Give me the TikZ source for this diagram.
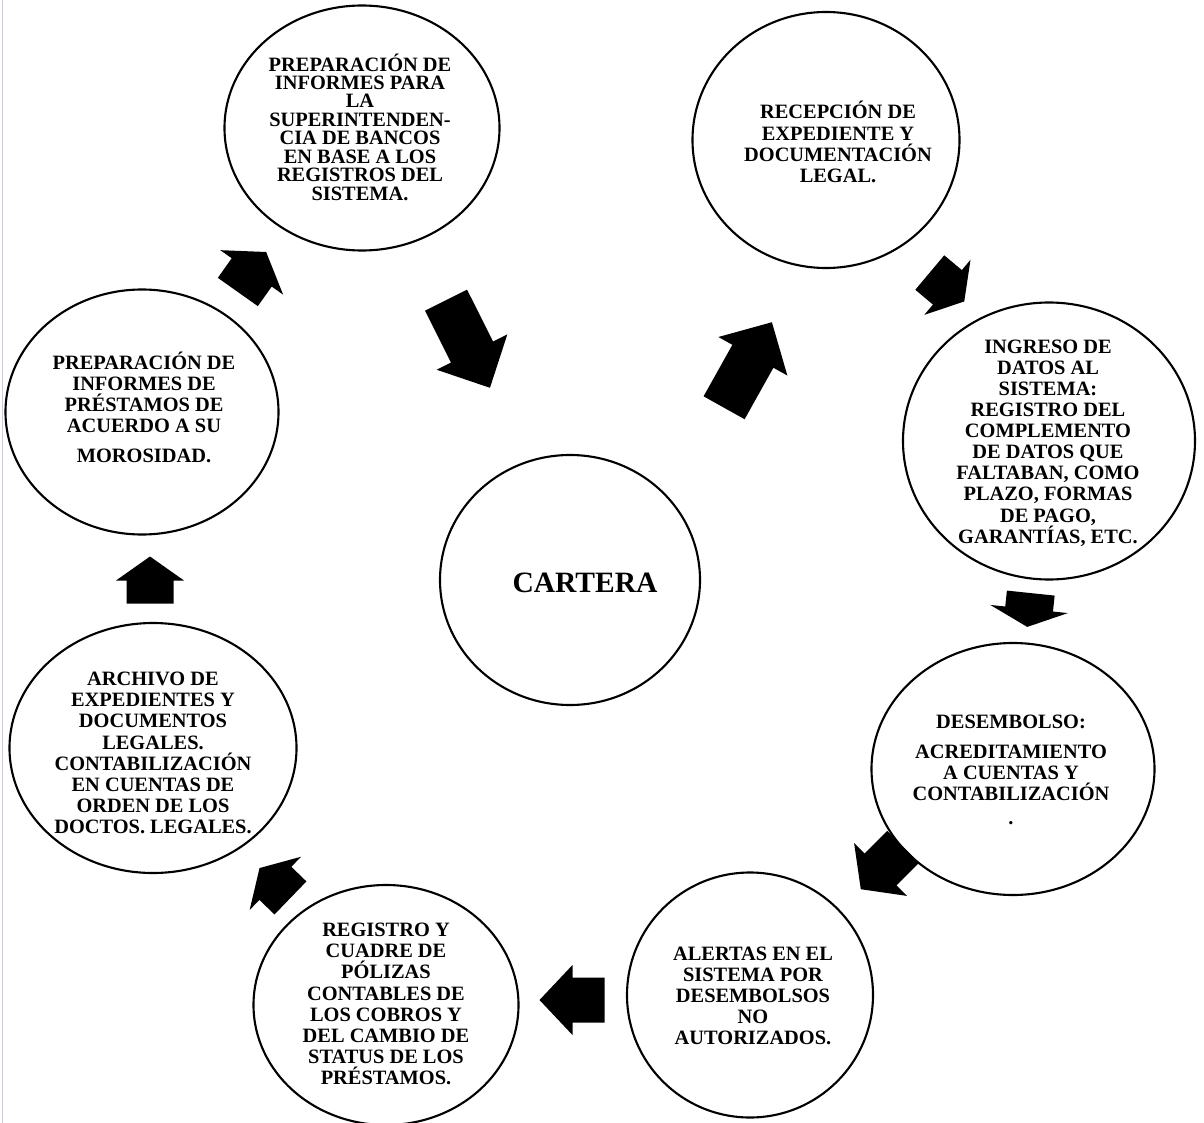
\documentclass[tikz,border=0pt]{standalone}
\usepackage{fontspec}
\setmainfont{Liberation Serif}
\usetikzlibrary{shapes.geometric}

\begin{document}
\begin{tikzpicture}[x=0.025cm, y=-0.025cm]
\tikzset{circ/.style 2 args={draw, line width=1.5pt, ellipse, inner sep=0, minimum width=#1*0.025cm, minimum height=#2*0.025cm}}
\tikzset{ctext/.style={align=center, inner sep=0, font=\bfseries\fontsize{14.5}{15}\selectfont}}
\def\blockarrow#1#2#3#4#5#6{ % #1 centre, #2 angle, #3 length, #4 head length, #5 shaft width, #6 head width
\begin{scope}[shift={(#1)}, rotate=#2, x=0.025cm, y=0.025cm]
\fill (-#3/2,-#5/2) -- (#3/2-#4,-#5/2) -- (#3/2-#4,-#6/2) -- (#3/2,0) -- (#3/2-#4,#6/2) -- (#3/2-#4,#5/2) -- (-#3/2,#5/2) -- cycle;
\end{scope}}
\useasboundingbox (0,0) rectangle (1204,1123);
\draw[blue!15!gray!35] (2,0) -- (2,1123);

%% circles
\node[circ={275}{245}] (superint) at (362,128) {};
\node[circ={267}{256}] (recepcion) at (826,140) {};
\node[circ={292}{277}] (ingreso) at (1049,441) {};
\node[circ={283}{252}] (desembolso) at (1013,769) {};
\node[circ={246}{245}] (alertas) at (750,995) {};
\node[circ={265}{240}] (registro) at (386,1005) {};
\node[circ={287}{250}] (archivo) at (153,748) {};
\node[circ={273}{245}] (morosidad) at (142,412) {};
\node[circ={260}{250}] (cartera) at (570,580) {};

%% texts
\node[ctext, font=\bfseries\fontsize{14.5}{13.1}\selectfont] (superint-t) at (360,127) {PREPARACIÓN DE\\INFORMES PARA\\LA\\SUPERINTENDEN-\\CIA DE BANCOS\\EN BASE A LOS\\REGISTROS DEL\\SISTEMA.};
\node[ctext] (recepcion-t) at (838,142) {RECEPCIÓN DE\\EXPEDIENTE Y\\DOCUMENTACIÓN\\LEGAL.};
\node[ctext] (ingreso-t) at (1048,443) {INGRESO DE\\DATOS AL\\SISTEMA:\\REGISTRO DEL\\COMPLEMENTO\\DE DATOS QUE\\FALTABAN, COMO\\PLAZO, FORMAS\\DE PAGO,\\GARANTÍAS, ETC.};
\node[ctext] (desembolso-t) at (1011,770) {DESEMBOLSO:\\[6.4pt]ACREDITAMIENTO\\A CUENTAS Y\\CONTABILIZACIÓN\\[2pt].};
\node[ctext] (alertas-t) at (753,996) {ALERTAS EN EL\\SISTEMA POR\\DESEMBOLSOS\\NO\\AUTORIZADOS.};
\node[ctext] (registro-t) at (386,1004) {REGISTRO Y\\CUADRE DE\\PÓLIZAS\\CONTABLES DE\\LOS COBROS Y\\DEL CAMBIO DE\\STATUS DE LOS\\PRÉSTAMOS.};
\node[ctext] (archivo-t) at (153,753) {ARCHIVO DE\\EXPEDIENTES Y\\DOCUMENTOS\\LEGALES.\\CONTABILIZACIÓN\\EN CUENTAS DE\\ORDEN DE LOS\\DOCTOS. LEGALES.};
\node[ctext] (morosidad-t) at (144,407) {PREPARACIÓN DE\\INFORMES DE\\PRÉSTAMOS DE\\ACUERDO A SU\\[6pt]MOROSIDAD.};
\node[ctext, font=\bfseries\fontsize{21}{24}\selectfont] (cartera-t) at (585,583) {CARTERA};

%% block arrows
\coordinate (a1) at (468,344);
\coordinate (a2) at (748,365);
\coordinate (a3) at (947,287);
\coordinate (a4) at (1029,610);
\coordinate (a5) at (882,868);
\coordinate (a6) at (572,1000);
\coordinate (a7) at (275,883);
\coordinate (a8) at (150,580);
\coordinate (a9) at (252,272);
\blockarrow{a1}{-63.4}{98}{40}{47}{79}
\blockarrow{a2}{60.8}{98}{39}{47}{79}
\blockarrow{a3}{-40}{45}{22}{45}{72}
\blockarrow{a4}{-96}{34}{18}{48}{78}
\blockarrow{a5}{-135}{60}{28}{45}{75}
\blockarrow{a6}{180}{65}{33}{45}{70}
\blockarrow{a7}{136}{43}{22}{46}{74}
\blockarrow{a8}{90}{47}{24}{47}{68}
\blockarrow{a9}{54.7}{49}{25}{49}{77}
\end{tikzpicture}
\end{document}
